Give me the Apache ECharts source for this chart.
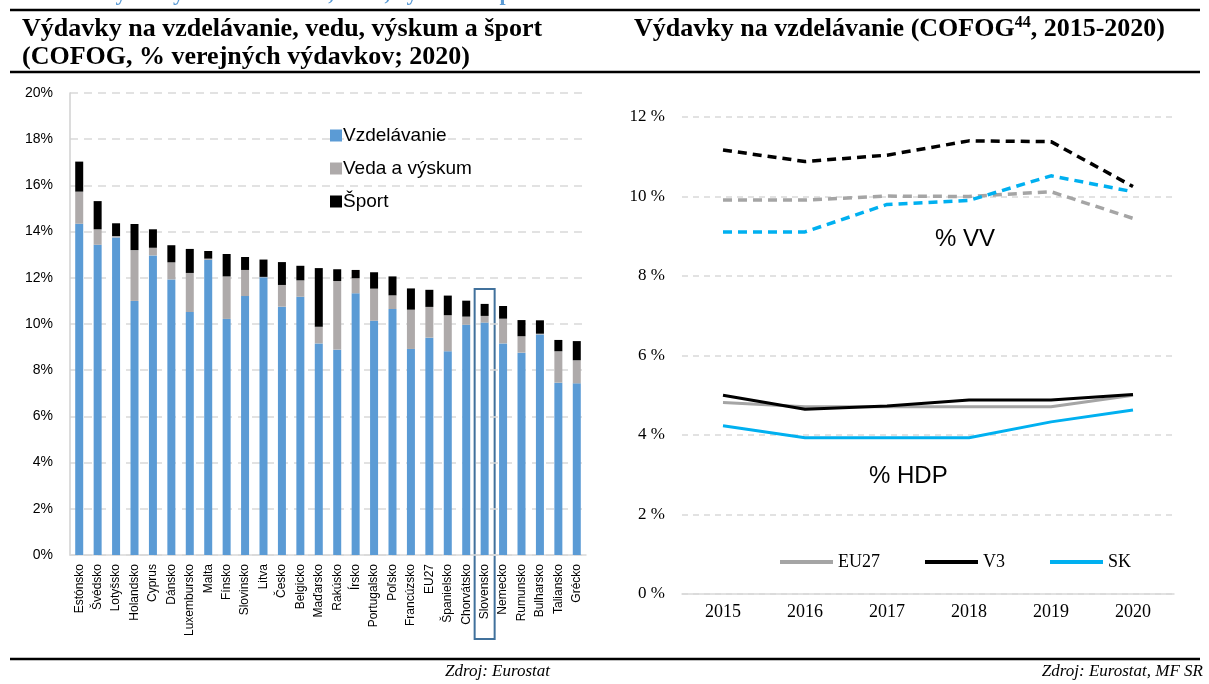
<!DOCTYPE html>
<html>
	<head>
		<meta charset="UTF-8">
		<title></title>
		<style>
			html,body{margin:0;padding:0;background:#fff;}
			#box{width:1209px;height:684px;}
		</style>
	</head>
	<body>
		<div id="box"></div>
		<script type="text/javascript" src="https://cdn.jsdelivr.net/npm/echarts@6/dist/echarts.min.js"></script>
		<script type="text/javascript">
			// lavy graf - krajiny, % verejnych vydavkov 2020
			var krajiny=['Estónsko','Švédsko','Lotyšsko','Holandsko','Cyprus','Dánsko','Luxembursko','Malta','Fínsko','Slovinsko','Litva','Česko','Belgicko','Maďarsko','Rakúsko','Írsko','Portugalsko','Poľsko','Francúzsko','EU27','Španielsko','Chorvátsko','Slovensko','Nemecko','Rumunsko','Bulharsko','Taliansko','Grécko'];
			var vzdelavanie=[14.34,13.43,13.75,11.0,12.97,11.93,10.52,12.78,10.22,11.21,12.02,10.75,11.18,9.16,8.89,11.33,10.14,10.65,8.92,9.41,8.82,9.97,10.06,9.16,8.76,9.55,7.46,7.43];
			var veda=[1.39,0.67,0.06,2.2,0.33,0.74,1.69,0.05,1.84,1.13,0.02,0.94,0.71,0.72,2.97,0.65,1.39,0.59,1.7,1.33,1.56,0.35,0.29,1.07,0.71,0.03,1.36,1.0];
			var sport=[1.3,1.22,0.55,1.13,0.8,0.74,1.04,0.33,0.97,0.56,0.75,0.99,0.63,2.54,0.51,0.36,0.71,0.82,0.92,0.74,0.85,0.69,0.52,0.55,0.7,0.58,0.49,0.83];

			// pravy graf - roky
			var roky=['2015','2016','2017','2018','2019','2020'];
			var eu27VV=[9.91,9.91,10.01,10.0,10.12,9.45];
			var v3VV=[11.17,10.88,11.04,11.40,11.38,10.25];
			var skVV=[9.11,9.11,9.8,9.9,10.52,10.12];
			var eu27HDP=[4.82,4.71,4.71,4.71,4.71,5.0];
			var v3HDP=[5.0,4.65,4.73,4.88,4.88,5.02];
			var skHDP=[4.23,3.93,3.93,3.93,4.33,4.63];

			var box=document.getElementById('box');
			var myechart=echarts.init(box);

			var serif='"Liberation Serif","Times New Roman",serif';
			var sans='"Liberation Sans",Arial,sans-serif';
			var modra='#5B9BD5',seda='#AEAAAA',cierna='#000000';
			var cEU='#A5A5A5',cV3='#000000',cSK='#00B0F0';

			var option={
				animation:false,
				backgroundColor:'#fff',
				legend:[{
					data:['Vzdelávanie','Veda a výskum','Šport'],
					orient:'vertical',
					left:325,top:121,
					icon:'rect',itemWidth:12,itemHeight:12,itemGap:14,
					textStyle:{fontFamily:sans,fontSize:19,color:'#000',padding:[0,0,0,-4]}
				},{
					data:['EU27','V3','SK'],
					left:775,top:548,
					icon:'rect',itemWidth:53,itemHeight:4,itemGap:45,
					textStyle:{fontFamily:serif,fontSize:18,color:'#000',padding:[0,0,0,0]}
				}],
				grid:[
					{left:70,top:93,right:623,bottom:129},
					{left:682,top:117,right:35,bottom:90}
				],
				xAxis:[{
					gridIndex:0,type:'category',data:krajiny,
					axisLine:{lineStyle:{color:'#D9D9D9',width:1.5}},
					axisTick:{show:false},
					axisLabel:{rotate:90,interval:0,fontFamily:sans,fontSize:12,color:'#000',margin:9}
				},{
					gridIndex:1,type:'category',data:roky,boundaryGap:true,
					axisLine:{lineStyle:{color:'#D9D9D9',width:1.5}},
					axisTick:{show:false},
					axisLabel:{fontFamily:serif,fontSize:18,color:'#000',margin:9}
				}],
				yAxis:[{
					gridIndex:0,type:'value',min:0,max:20,interval:2,
					axisLine:{show:true,lineStyle:{color:'#D0D0D0',width:1.5}},
					axisLabel:{formatter:'{value}%',fontFamily:sans,fontSize:14,color:'#000',margin:17},
					splitLine:{lineStyle:{color:'#D9D9D9',type:[8,6],width:1.5}}
				},{
					gridIndex:1,type:'value',min:0,max:12,interval:2,
					axisLine:{show:false},
					axisLabel:{formatter:'{value} %',fontFamily:serif,fontSize:17,color:'#000',margin:17},
					splitLine:{lineStyle:{color:'#D9D9D9',type:[6,5],width:1.5}}
				}],
				series:[
					{name:'Vzdelávanie',type:'bar',stack:'a',data:vzdelavanie,barWidth:8,itemStyle:{color:modra},xAxisIndex:0,yAxisIndex:0},
					{name:'Veda a výskum',type:'bar',stack:'a',data:veda,barWidth:8,itemStyle:{color:seda},xAxisIndex:0,yAxisIndex:0},
					{name:'Šport',type:'bar',stack:'a',data:sport,barWidth:8,itemStyle:{color:cierna},xAxisIndex:0,yAxisIndex:0},

					{name:'EU27 VV',type:'line',data:eu27VV,xAxisIndex:1,yAxisIndex:1,symbol:'none',lineStyle:{color:cEU,width:3.5,type:[9,6]}},
					{name:'V3 VV',type:'line',data:v3VV,xAxisIndex:1,yAxisIndex:1,symbol:'none',lineStyle:{color:cV3,width:3.5,type:[9,6]}},
					{name:'SK VV',type:'line',data:skVV,xAxisIndex:1,yAxisIndex:1,symbol:'none',lineStyle:{color:cSK,width:3.5,type:[9,6]}},
					{name:'EU27',type:'line',data:eu27HDP,xAxisIndex:1,yAxisIndex:1,symbol:'none',itemStyle:{color:cEU},lineStyle:{color:cEU,width:3}},
					{name:'V3',type:'line',data:v3HDP,xAxisIndex:1,yAxisIndex:1,symbol:'none',itemStyle:{color:cV3},lineStyle:{color:cV3,width:3}},
					{name:'SK',type:'line',data:skHDP,xAxisIndex:1,yAxisIndex:1,symbol:'none',itemStyle:{color:cSK},lineStyle:{color:cSK,width:3}}
				],
				graphic:[
					{type:'text',left:5,top:-17,style:{text:'Graf 14 – Výdavky na vzdelávanie, vedu, výskum a šport',fontFamily:serif,fontWeight:'bold',fontSize:22,fill:'#5B9BD5'}},
					{type:'line',shape:{x1:10,y1:10,x2:1200,y2:10},style:{stroke:'#000',lineWidth:2.5}},
					{type:'line',shape:{x1:10,y1:72,x2:1200,y2:72},style:{stroke:'#000',lineWidth:2.5}},
					{type:'line',shape:{x1:10,y1:659,x2:1200,y2:659},style:{stroke:'#000',lineWidth:2.5}},
					{type:'text',left:22,top:15,style:{text:'Výdavky na vzdelávanie, vedu, výskum a šport\n(COFOG, % verejných výdavkov; 2020)',fontFamily:serif,fontWeight:'bold',fontSize:26,lineHeight:28,fill:'#000'}},
					{type:'text',left:634,top:15,style:{
						text:'Výdavky na vzdelávanie (COFOG{s|44}, 2015-2020)',
						fontFamily:serif,fontWeight:'bold',fontSize:26,lineHeight:28,fill:'#000',
						rich:{s:{fontFamily:serif,fontWeight:'bold',fontSize:16,verticalAlign:'top',lineHeight:28,padding:[0,0,12,0]}}
					}},
					{type:'text',left:935,top:227,style:{text:'% VV',fontFamily:sans,fontSize:24,fill:'#000'}},
					{type:'text',left:869,top:464,style:{text:'% HDP',fontFamily:sans,fontSize:24,fill:'#000'}},
					{type:'text',left:445,top:663,style:{text:'Zdroj: Eurostat',fontFamily:serif,fontStyle:'italic',fontSize:17,fill:'#000'}},
					{type:'text',right:6,top:663,style:{text:'Zdroj: Eurostat, MF SR',fontFamily:serif,fontStyle:'italic',fontSize:17,fill:'#000'}}
				]
			};
			myechart.setOption(option);

			// ramik okolo Slovenska
			var iSk=krajiny.indexOf('Slovensko');
			var xSk=myechart.convertToPixel({xAxisIndex:0},krajiny[iSk]);
			var yTop=myechart.convertToPixel({yAxisIndex:0},vzdelavanie[iSk]+veda[iSk]+sport[iSk]+0.65);
			myechart.setOption({
				graphic:[{type:'rect',id:'ramik',shape:{x:xSk-10,y:yTop,width:20,height:639-yTop},style:{fill:'none',stroke:'#41719C',lineWidth:2}}]
			});
		</script>
	</body>
</html>
